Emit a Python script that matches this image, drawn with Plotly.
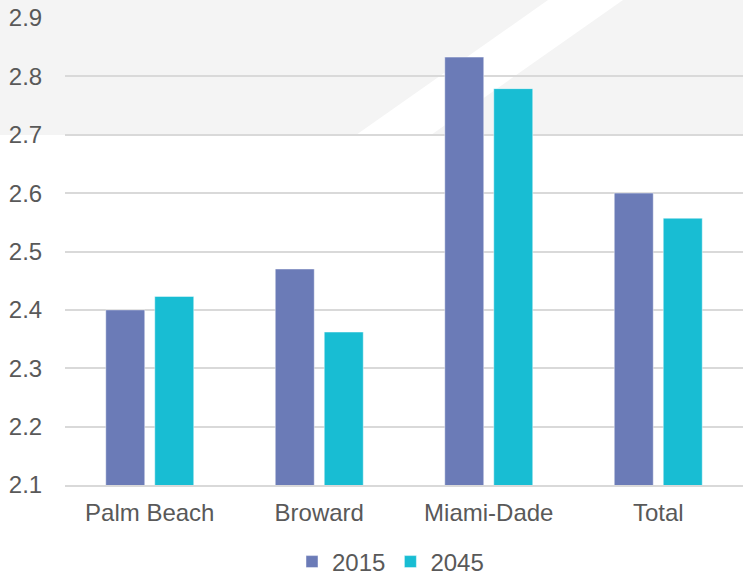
import plotly.graph_objects as go

categories = ["Palm Beach", "Broward", "Miami-Dade", "Total"]
values_2015 = [2.40, 2.47, 2.833, 2.60]
values_2045 = [2.423, 2.362, 2.779, 2.557]
series_names = ["2015", "2045"]
y_ticks = [2.1, 2.2, 2.3, 2.4, 2.5, 2.6, 2.7, 2.8, 2.9]

C2015 = "#6B7BB7"
C2045 = "#18BDD3"
FONT = "Liberation Sans, Arial, sans-serif"

W, H = 743, 575
L, R, T, B = 65, 0, 18, 90
pw, ph = W - L - R, H - T - B


def px(x):
    return (x - L) / pw


def py(y):
    return (H - B - y) / ph


fig = go.Figure()
fig.add_trace(go.Bar(
    x=categories, y=values_2015, name=series_names[0], base=0,
    marker=dict(color=C2015, line=dict(color="rgba(255,255,255,0.45)", width=1)),
))
fig.add_trace(go.Bar(
    x=categories, y=values_2045, name=series_names[1], base=0,
    marker=dict(color=C2045, line=dict(color="rgba(255,255,255,0.45)", width=1)),
))

shapes = [
    dict(type="rect", xref="paper", yref="paper",
         x0=px(0), x1=px(W), y0=py(135), y1=py(0),
         fillcolor="#F4F4F4", line=dict(width=0), layer="below"),
    dict(type="path", xref="paper", yref="paper",
         path=f"M{px(548)},{py(0)} L{px(623)},{py(0)} L{px(431)},{py(135)} L{px(356)},{py(135)} Z",
         fillcolor="#FFFFFF", line=dict(width=0), layer="below"),
]

fig.update_layout(
    width=W, height=H,
    margin=dict(l=L, r=R, t=T, b=B, pad=0, autoexpand=False),
    paper_bgcolor="white",
    plot_bgcolor="rgba(0,0,0,0)",
    barmode="group",
    bargap=0.422,
    bargroupgap=0.204,
    font=dict(family=FONT, size=24, color="#595959"),
    shapes=shapes,
    showlegend=True,
    legend=dict(orientation="h", x=px(292), xanchor="left", y=py(562), yanchor="middle",
                font=dict(size=24, color="#595959"), bgcolor="rgba(0,0,0,0)",
                itemwidth=30, tracegroupgap=0),
    xaxis=dict(showgrid=False, showline=True, linecolor="#D9D9D9", linewidth=1.5,
               ticks="outside", ticklen=5, tickcolor="rgba(0,0,0,0)", automargin=False,
               tickfont=dict(size=24, color="#595959")),
    yaxis=dict(range=[2.1, 2.9], tickvals=y_ticks, ticktext=[f"{v:.1f}" for v in y_ticks],
               showgrid=True, gridcolor="#D9D9D9", gridwidth=1.5, zeroline=False,
               showline=False, ticks="outside", ticklen=17, tickcolor="rgba(0,0,0,0)",
               automargin=False, tickfont=dict(size=24, color="#595959")),
)

fig.write_html(
    "out.html",
    config={"displayModeBar": False},
    post_script="document.body.style.margin='0';document.body.style.overflow='hidden';",
)
